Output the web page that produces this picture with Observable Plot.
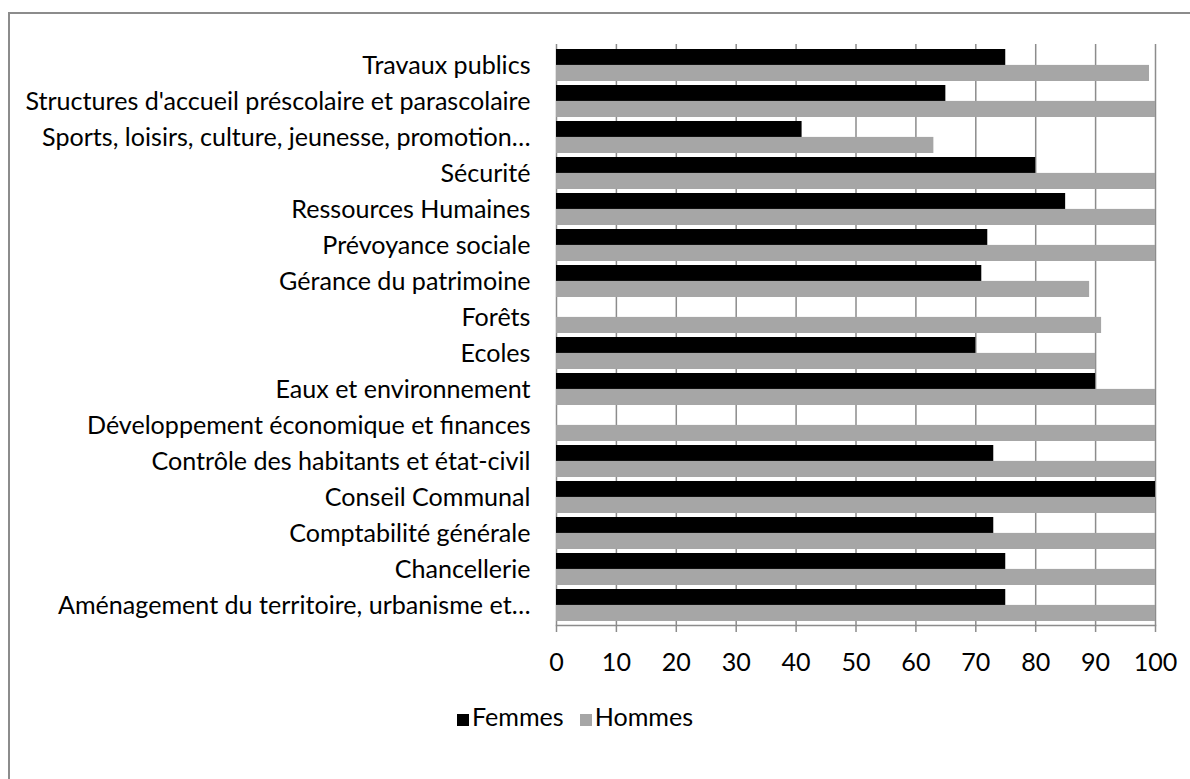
<!DOCTYPE html>
<html>
<head>
<meta charset="utf-8">
<script src="https://cdn.jsdelivr.net/npm/d3@7"></script>
<script src="https://cdn.jsdelivr.net/npm/@observablehq/plot@0.6"></script>
<style>
  html, body { margin: 0; padding: 0; background: #fff; width: 1190px; height: 779px; overflow: hidden; }
  #box { position: absolute; left: 8px; top: 12px; width: 1400px; height: 1000px; border-top: 2px solid #8c8c8c; border-left: 2px solid #8c8c8c; }
  #chart { position: absolute; left: 0; top: 0; }
  #legend { position: absolute; top: 701px; left: 0; width: 1150px; text-align: center; font-family: Lato, sans-serif; color: #000; }
  .sw { display: inline-block; width: 12px; height: 12px; margin-right: 3px; vertical-align: 0px; }
  .item { display: inline-block; margin: 0 8px; }
</style>
</head>
<body>
<div id="box"></div>
<div id="chart"></div>
<div id="legend"></div>
<script>
const categories = [
  "Travaux publics",
  "Structures d'accueil préscolaire et parascolaire",
  "Sports, loisirs, culture, jeunesse, promotion…",
  "Sécurité",
  "Ressources Humaines",
  "Prévoyance sociale",
  "Gérance du patrimoine",
  "Forêts",
  "Ecoles",
  "Eaux et environnement",
  "Développement économique et finances",
  "Contrôle des habitants et état-civil",
  "Conseil Communal",
  "Comptabilité générale",
  "Chancellerie",
  "Aménagement du territoire, urbanisme et…"
];
const femmes = [75, 65, 41, 80, 85, 72, 71, 0, 70, 90, 0, 73, 100, 73, 75, 75];
const hommes = [99, 100, 63, 100, 100, 100, 89, 91, 90, 100, 100, 100, 100, 100, 100, 100];
const seriesNames = ["Femmes", "Hommes"];
const seriesColors = ["#000000", "#a6a6a6"];
const xTicks = [0, 10, 20, 30, 40, 50, 60, 70, 80, 90, 100];

const data = categories.map((c, i) => ({cat: c, femmes: femmes[i], hommes: hommes[i]}));

// fit font size so the longest label matches the reference width
const fontFamily = "Lato";
const ctx = document.createElement("canvas").getContext("2d");
ctx.font = `20px ${fontFamily}`;
const w = ctx.measureText(categories[1]).width;
const fontSize = Math.round(20 * 505 / w * 10) / 10;

const H = 700, plotTop = 44, plotBottom = 625;
const padding = 0.118;
const n = categories.length;
const step = (plotBottom - plotTop) / (n + padding);
const half = step * (1 - padding) / 2;

const gridColor = "#8c8c8c";

const chart = Plot.plot({
  width: 1190,
  height: H,
  marginLeft: 556,
  marginRight: 35,
  marginTop: plotTop,
  marginBottom: H - plotBottom,
  style: {fontFamily, fontSize: fontSize + "px", color: "#000", background: "transparent", overflow: "visible"},
  x: {domain: [0, 100], label: null},
  y: {domain: categories, padding, label: null},
  marks: [
    Plot.gridX(xTicks, {stroke: gridColor, strokeOpacity: 1, strokeWidth: 1.5}),
    Plot.barX(data, {x: "femmes", y: "cat", fill: seriesColors[0], insetBottom: half}),
    Plot.barX(data, {x: "hommes", y: "cat", fill: seriesColors[1], insetTop: half}),
    Plot.frame({anchor: "bottom", stroke: gridColor, strokeWidth: 1.5}),
    Plot.axisX(xTicks, {tickSize: 7, tickPadding: 21, stroke: gridColor, strokeWidth: 1.5, fill: "#000", fontSize: fontSize, label: null}),
    Plot.axisY({tickSize: 0, tickPadding: 26, fill: "#000", fontSize: fontSize, label: null})
  ]
});
document.getElementById("chart").appendChild(chart);

const legend = document.getElementById("legend");
legend.style.fontSize = fontSize + "px";
seriesNames.forEach((s, i) => {
  const item = document.createElement("span");
  item.className = "item";
  const sw = document.createElement("span");
  sw.className = "sw";
  sw.style.background = seriesColors[i];
  item.appendChild(sw);
  item.appendChild(document.createTextNode(s));
  legend.appendChild(item);
});
</script>
</body>
</html>
